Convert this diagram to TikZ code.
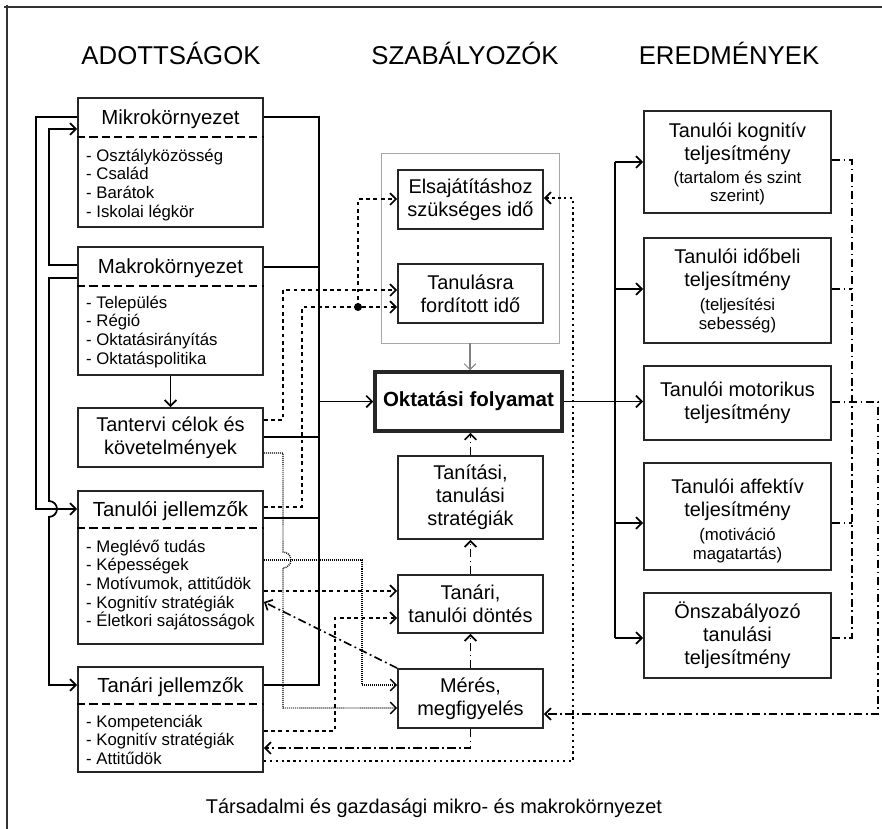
\documentclass[tikz,border=0pt]{standalone}
\usepackage{fontspec}
\setmainfont{Liberation Sans}
\usetikzlibrary{arrows.meta}

\tikzset{
  box/.style 2 args={draw=black!85, line width=1.6pt, minimum width=#1*0.03cm,
    minimum height=#2*0.03cm, inner sep=0pt, align=center,
    font=\fontsize{17}{19.6}\selectfont},
  coltitle/.style={inner sep=0pt, font=\fontsize{22}{24}\selectfont},
  boxhead/.style={inner sep=0pt, font=\fontsize{17.4}{20}\selectfont},
  boxtxt/.style={inner sep=0pt, align=center, font=\fontsize{17}{19.6}\selectfont},
  smalltxt/.style={inner sep=0pt, align=center, font=\fontsize{14.3}{16}\selectfont},
  listitem/.style={inner sep=0pt, anchor=base west, font=\fontsize{14.3}{16}\selectfont},
  hline/.style={line width=1.5pt, dash pattern=on 7pt off 3.5pt},
  conn/.style={line width=1.5pt},
  fb/.style={line width=1.4pt, dash pattern=on 7pt off 3pt on 1.5pt off 3pt},
  sdash/.style={line width=1.4pt, dash pattern=on 3.2pt off 3pt},
  fdot/.style={line width=1.2pt, dash pattern=on 0.8pt off 0.9pt},
  cdot/.style={line width=1.4pt, dash pattern=on 2pt off 3pt}
}

\begin{document}
\begin{tikzpicture}[x=0.03cm,y=-0.03cm,>={Straight Barb[length=5pt,width=10pt]}]
\useasboundingbox (0,0) rectangle (882,829);
% frame
\draw[line width=1.6pt,black!80] (4,7) -- (882,7);
\draw[line width=1.6pt,black!80] (7,5) -- (7,829);
% column titles
\node[coltitle] (t-adott) at (171,53) {ADOTTSÁGOK};
\node[coltitle] (t-szab) at (465,53) {SZABÁLYOZÓK};
\node[coltitle] (t-ered) at (729,53) {EREDMÉNYEK};

% left column
\node[box={185}{129}] (mikro) at (170.5,162.5) {};
\node[boxhead] (mikro-h) at (170.5,119) {Mikrokörnyezet};
\draw[hline] (mikro.west |- 0,137) -- (mikro.east |- 0,137);
\foreach \t [count=\i] in {Osztályközösség, Család, Barátok, Iskolai légkör}
  \node[listitem] (mikro-\i) at (86,{161+(\i-1)*18.7}) {- \t};

\node[box={185}{128}] (makro) at (170.5,311) {};
\node[boxhead] (makro-h) at (170.5,268) {Makrokörnyezet};
\draw[hline] (makro.west |- 0,286) -- (makro.east |- 0,286);
\foreach \t [count=\i] in {Település, Régió, Oktatásirányítás, Oktatáspolitika}
  \node[listitem] (makro-\i) at (86,{308+(\i-1)*18.7}) {- \t};

\node[box={185}{59}] (tanterv) at (170.5,437.5) {Tantervi célok és\\követelmények};

\node[box={185}{153}] (tanuloi) at (170.5,567.5) {};
\node[boxhead] (tanuloi-h) at (170.5,511) {Tanulói jellemzők};
\draw[hline] (tanuloi.west |- 0,528) -- (tanuloi.east |- 0,528);
\foreach \t [count=\i] in {Meglévő tudás, Képességek, {Motívumok, attitűdök},
    Kognitív stratégiák, Életkori sajátosságok}
  \node[listitem] (tanuloi-\i) at (86,{552+(\i-1)*18.7}) {- \t};

\node[box={185}{105}] (tanari) at (170.5,719.5) {};
\node[boxhead] (tanari-h) at (170.5,687) {Tanári jellemzők};
\draw[hline] (tanari.west |- 0,704) -- (tanari.east |- 0,704);
\foreach \t [count=\i] in {Kompetenciák, Kognitív stratégiák, Attitűdök}
  \node[listitem] (tanari-\i) at (86,{727+(\i-1)*18.7}) {- \t};

% middle column
\node[draw=gray!70, line width=0.8pt, minimum width=178*0.03cm,
  minimum height=190*0.03cm] (idok) at (470,248) {};
\node[box={145}{59}] (elsaj) at (470.5,199.5) {Elsajátításhoz\\szükséges idő};
\node[box={145}{59}] (tanul) at (470.5,293.5) {Tanulásra\\fordított idő};
\node[box={187}{59}, line width=3pt, font=\bfseries\fontsize{17.5}{20}\selectfont]
  (oktat) at (468.5,401.5) {Oktatási folyamat};
\node[box={145}{83}] (tanit) at (470.5,497.5) {Tanítási,\\tanulási\\stratégiák};
\node[box={145}{58}] (dont) at (470.5,604) {Tanári,\\tanulói döntés};
\node[box={145}{59}] (meres) at (470.5,698.5) {Mérés,\\megfigyelés};

% right column
\node[box={187}{102}] (kogn) at (737.5,162) {};
\node[boxtxt] (kogn-t) at (737.5,143.5) {Tanulói kognitív\\teljesítmény};
\node[smalltxt] (kogn-s) at (737.5,188) {(tartalom és szint\\szerint)};
\node[box={187}{105}] (ido) at (737.5,290.5) {};
\node[boxtxt] (ido-t) at (737.5,269.5) {Tanulói időbeli\\teljesítmény};
\node[smalltxt] (ido-s) at (737.5,315.5) {(teljesítési\\sebesség)};
\node[box={187}{74}] (motor) at (737.5,403) {Tanulói motorikus\\teljesítmény};
\node[box={187}{107}] (affekt) at (737.5,516.5) {};
\node[boxtxt] (affekt-t) at (737.5,499.5) {Tanulói affektív\\teljesítmény};
\node[smalltxt] (affekt-s) at (737.5,545.5) {(motiváció\\magatartás)};
\node[box={187}{85}] (onsz) at (737.5,635.5) {Önszabályozó\\tanulási\\teljesítmény};

\node[inner sep=0pt, font=\fontsize{17}{19}\selectfont] (kornyezet) at (434,808)
  {Társadalmi és gazdasági mikro- és makrokörnyezet};

% solid connectors, left side
\draw[conn,->] (mikro.west |- 0,117) -- (36,117) -- (36,509) -- (tanuloi.west |- 0,509);
\draw[conn,->] (makro.west |- 0,265) -- (49,265) -- (49,129) -- (mikro.west |- 0,129);
\draw[conn,->] (makro.west |- 0,278) -- (49,278) -- (49,501)
  arc[start angle=90, end angle=-90, radius=6.8pt] -- (49,685) -- (tanari.west |- 0,685);
\draw[conn,->] (makro.south) -- (tanterv.north);
% solid bus to Oktatási folyamat
\draw[conn] (mikro.east |- 0,117) -- (319,117) -- (319,685) -- (tanari.east |- 0,685);
\draw[conn] (makro.east |- 0,267) -- (319,267);
\draw[conn] (tanterv.east |- 0,437) -- (319,437);
\draw[conn] (tanuloi.east |- 0,518) -- (319,518);
\draw[conn,->] (319,401.5) -- (oktat.west);
\draw[gray, line width=0.9pt,->] (idok.south) -- (idok.south |- oktat.north);
% solid bus to results
\draw[conn,->] (oktat.east) -- (oktat.east -| motor.west);
\draw[conn] (615,162) -- (615,638);
\foreach \n/\yy in {kogn/162, ido/289, affekt/523, onsz/638}
  \draw[conn,->] (615,\yy) -- (\n.west |- 0,\yy);

% feedback (dash-dot)
\draw[fb,->] (tanit.north) -- (tanit.north |- oktat.south);
\draw[fb,->] (dont.north) -- (dont.north |- tanit.south);
\draw[fb,->] (meres.north) -- (meres.north |- dont.south);
\draw[fb,->] (meres.north west) -- (tanuloi.east |- 0,602);
\draw[fb,->] (meres.south) -- (meres.south |- 0,748) -- (tanari.east |- 0,748);
\draw[fb] (kogn.east |- 0,160) -- (852,160) -- (852,638) -- (onsz.east |- 0,638);
\draw[fb] (ido.east |- 0,289) -- (852,289);
\draw[fb] (affekt.east |- 0,523) -- (852,523);
\draw[fb,->] (motor.east |- 0,402) -- (878,402) -- (878,714) -- (meres.east |- 0,714);

% dashed and dotted links
\draw[sdash,->] (tanterv.east |- 0,420) -- (283,420) -- (283,290) -- (tanul.west |- 0,290);
\draw[sdash,->] (tanuloi.east |- 0,507) -- (302,507) -- (302,307) -- (tanul.west |- 0,307);
\coordinate (jn) at (358,307);
\fill (jn) circle (3.4pt);
\draw[sdash,->] (jn) -- (358,199) -- (elsaj.west |- 0,199);
\draw[sdash,->] (tanuloi.east |- 0,591) -- (dont.west |- 0,591);
\draw[sdash,->] (tanari.east |- 0,731) -- (335,731) -- (335,618) -- (dont.west |- 0,618);
\draw[cdot,->] (tanari.east |- 0,761) -- (573,761) -- (573,198) -- (elsaj.east |- 0,198);
\draw[fdot,->] (tanterv.east |- 0,453) -- (283,453) -- (283,552)
  arc[start angle=90, end angle=-90, radius=6.8pt] -- (283,708) -- (meres.west |- 0,708);
\draw[fdot,->] (tanuloi.east |- 0,560) -- (362,560) -- (362,685) -- (meres.west |- 0,685);
\end{tikzpicture}
\end{document}
